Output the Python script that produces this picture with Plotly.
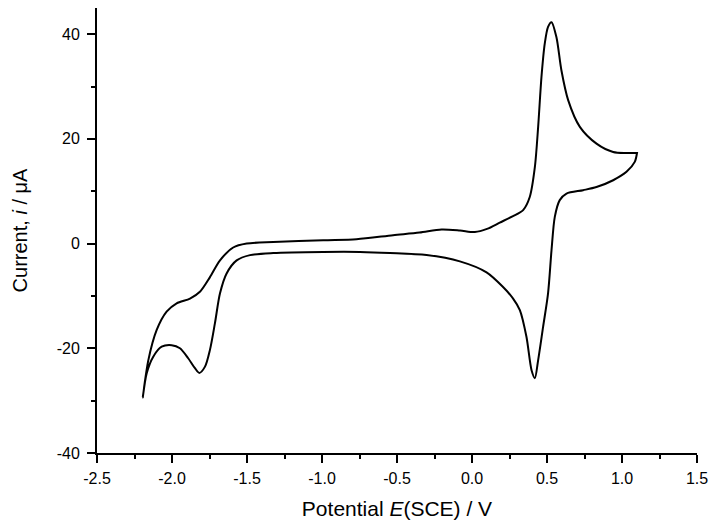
import plotly.graph_objects as go

# Anodic sweep (-2.2 V -> 1.1 V)
anodic_E = [-2.195, -2.158, -2.102, -2.036, -1.969, -1.880, -1.814, -1.747, -1.680, -1.592,
            -1.502, -1.325, -0.992, -0.770, -0.526, -0.350, -0.203, -0.080, 0.019, 0.100,
            0.185, 0.270, 0.341, 0.385, 0.419, 0.441, 0.463, 0.485, 0.507, 0.530,
            0.563, 0.596, 0.641, 0.719, 0.830, 0.941, 1.030, 1.100]
anodic_i = [-29.4, -22.3, -16.5, -13.0, -11.4, -10.5, -9.2, -6.4, -3.2, -0.75,
            0.0, 0.3, 0.65, 0.84, 1.6, 2.1, 2.7, 2.5, 2.2, 2.8,
            4.0, 5.2, 6.4, 8.9, 14.6, 22.3, 31.8, 38.2, 41.4, 42.3,
            39.4, 33.1, 27.4, 22.3, 19.1, 17.5, 17.3, 17.3]

# Cathodic sweep (1.1 V -> -2.2 V)
cathodic_E = [1.100, 1.085, 1.030, 0.941, 0.830, 0.741, 0.630, 0.585, 0.552, 0.530,
              0.507, 0.474, 0.441, 0.419, 0.397, 0.363, 0.319, 0.274, 0.207, 0.097,
              -0.081, -0.303, -0.548, -0.747, -0.992, -1.325, -1.480, -1.569, -1.636, -1.680,
              -1.714, -1.747, -1.780, -1.818, -1.847, -1.892, -1.947, -2.002, -2.069, -2.125,
              -2.169, -2.195]
cathodic_i = [17.3, 15.6, 13.7, 12.1, 10.8, 10.2, 9.56, 8.3, 5.1, -1.3,
              -9.5, -15.9, -22.25, -25.7, -24.2, -17.8, -12.7, -10.5, -8.3, -5.5,
              -3.4, -2.2, -1.8, -1.6, -1.6, -1.8, -2.2, -3.2, -5.7, -9.5,
              -15.25, -20.3, -23.5, -24.7, -23.8, -21.9, -20.0, -19.4, -19.7, -21.6,
              -24.8, -29.4]

x_tickvals = [-2.5, -2.0, -1.5, -1.0, -0.5, 0.0, 0.5, 1.0, 1.5]
x_ticktext = ["-2.5", "-2.0", "-1.5", "-1.0", "-0.5", "0.0", "0.5", "1.0", "1.5"]
y_tickvals = [-40, -20, 0, 20, 40]
y_ticktext = ["-40", "-20", "0", "20", "40"]

E_all = anodic_E + cathodic_E
i_all = anodic_i + cathodic_i

fig = go.Figure()
fig.add_trace(go.Scatter(x=E_all, y=i_all, mode="lines",
                         line=dict(color="black", width=2, shape="spline", smoothing=0.8),
                         showlegend=False, hoverinfo="skip"))

font_family = "Liberation Sans, Arial, sans-serif"
axis_common = dict(showline=True, linecolor="black", linewidth=2, mirror=False,
                   ticks="outside", ticklen=8, tickwidth=2, tickcolor="black",
                   showgrid=False, zeroline=False,
                   tickfont=dict(family=font_family, size=16, color="black"))

fig.update_xaxes(range=[-2.5, 1.5], tickmode="array", tickvals=x_tickvals, ticktext=x_ticktext,
                 minor=dict(dtick=0.25, tick0=-2.5, ticks="outside", ticklen=4, tickwidth=2,
                            tickcolor="black", showgrid=False),
                 title=dict(text="Potential <i>E</i>(SCE) / V", standoff=15,
                            font=dict(family=font_family, size=21, color="black")),
                 ticklabelstandoff=2,
                 **axis_common)
fig.update_yaxes(range=[-40, 45], tickmode="array", tickvals=y_tickvals, ticktext=y_ticktext,
                 minor=dict(dtick=10, tick0=-40, ticks="outside", ticklen=4, tickwidth=2,
                            tickcolor="black", showgrid=False),
                 title=dict(text="Current, <i>i</i> / μA", standoff=24,
                            font=dict(family=font_family, size=20, color="black")),
                 ticklabelstandoff=4,
                 **axis_common)

fig.update_layout(width=718, height=531, margin=dict(l=97, r=21, t=8, b=78),
                  plot_bgcolor="white", paper_bgcolor="white")

fig.write_html("out.html", config={"displayModeBar": False, "staticPlot": True},
               post_script="document.body.style.margin='0';document.body.style.padding='0';")
